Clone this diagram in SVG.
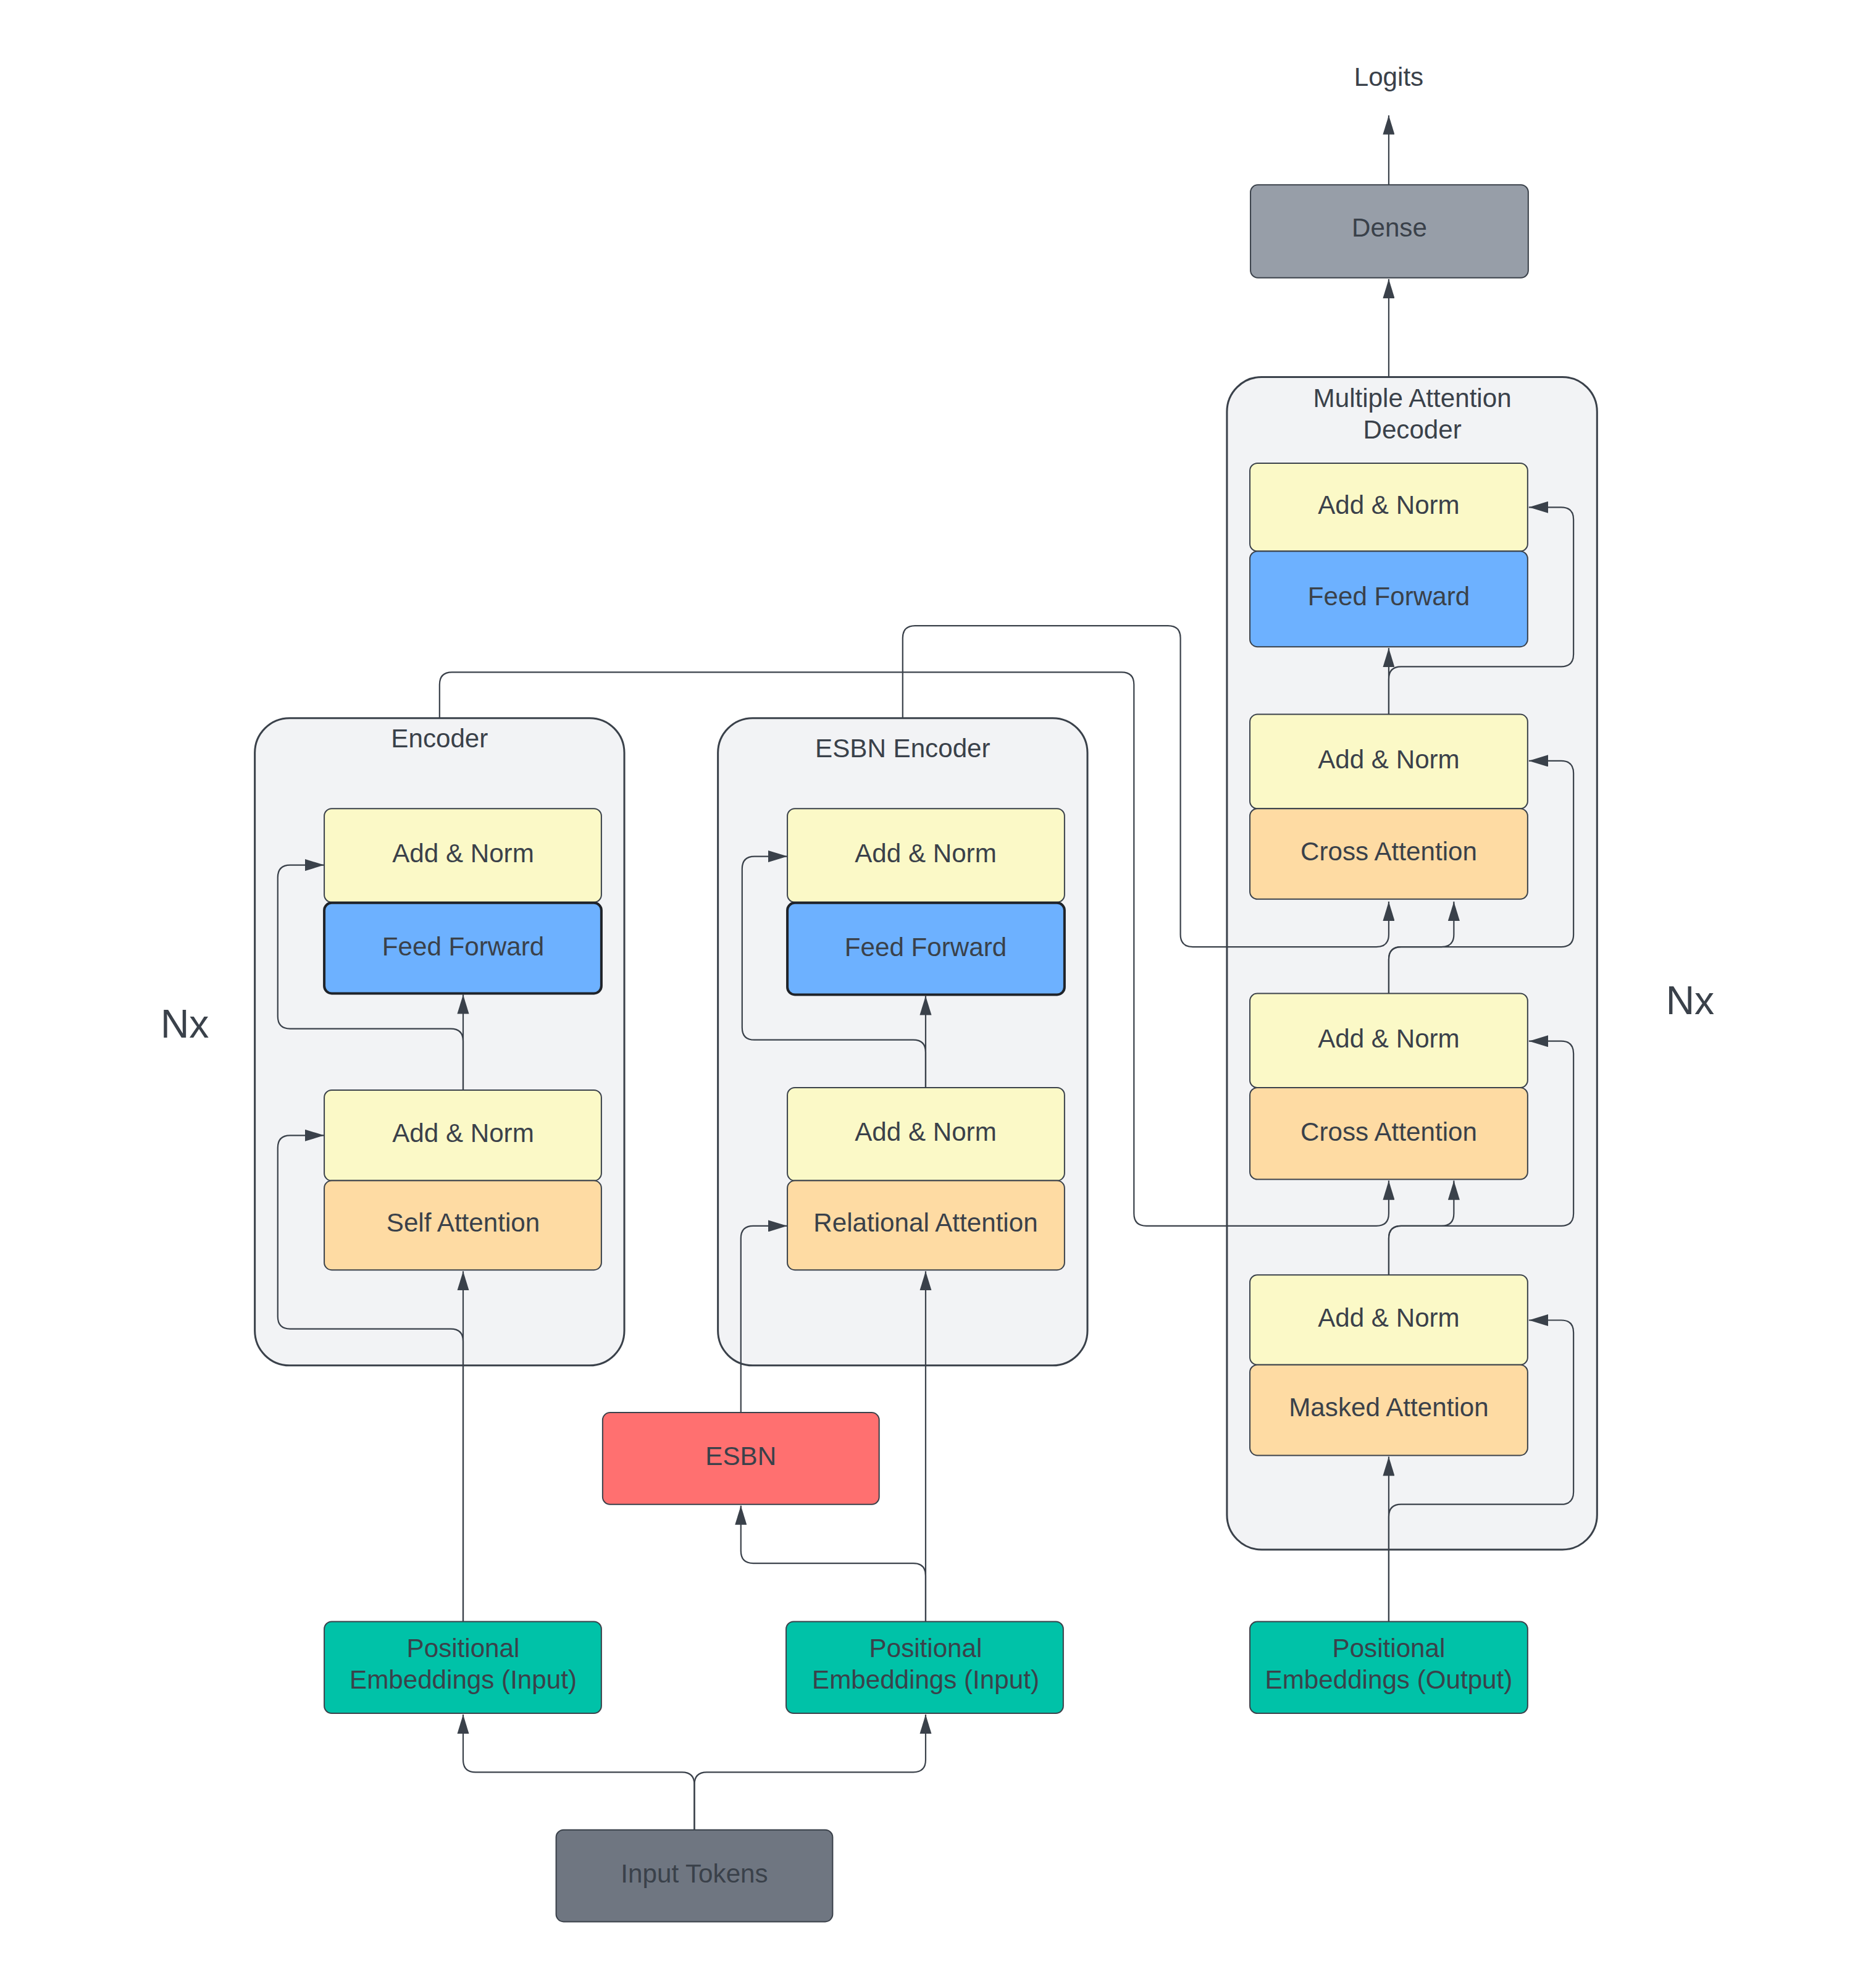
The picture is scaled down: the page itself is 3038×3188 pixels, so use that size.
<svg xmlns="http://www.w3.org/2000/svg" width="3038" height="3188" viewBox="0 0 3038 3188">
<style>
text{font-family:"Liberation Sans",Arial,sans-serif;fill:#3a414a;text-anchor:middle;dominant-baseline:central}
.lbl{font-size:42px}
.big{font-size:64px}
.box{stroke:#3a414a;stroke-width:2}
.cont{fill:#f2f3f5;stroke:#3a414a;stroke-width:3}
.an{fill:#fbf9c7}
.ff{fill:#6db1ff;stroke:#1f2329;stroke-width:4}
.att{fill:#fedba3}
.pe{fill:#00c2a8}
.c{fill:none;stroke:#3a414a;stroke-width:2.2}
.a{marker-end:url(#arr)}
</style>
<defs>
<marker id="arr" viewBox="0 0 31 19" refX="31" refY="9.5" markerWidth="31" markerHeight="19" markerUnits="userSpaceOnUse" orient="auto">
<path d="M0,0 L31,9.5 L0,19 z" fill="#3a414a"/>
</marker>
</defs>
<rect width="3038" height="3188" fill="#ffffff"/>
<g id="diagram" transform="scale(1.004)">

<g id="decoder">
<rect class="cont" x="1979" y="608" width="597" height="1891" rx="56"/>
<text class="lbl" x="2278" y="642">Multiple Attention</text>
<text class="lbl" x="2278" y="693">Decoder</text>
</g>
<g id="encoder">
<rect class="cont" x="411" y="1158" width="596" height="1044" rx="56"/>
<text class="lbl" x="709" y="1191">Encoder</text>
</g>
<g id="esbn-encoder">
<rect class="cont" x="1158" y="1158" width="596" height="1044" rx="56"/>
<text class="lbl" x="1456" y="1207">ESBN Encoder</text>
</g>

<g id="connectors">
<path class="c a" d="M2240,298 V186"/>
<path class="c a" d="M2240,608 V450"/>
<path class="c a" d="M2240,1152 V1045"/>
<path class="c a" d="M2240,1152 V1095 Q2240,1075 2260,1075 H2518 Q2538,1075 2538,1055 V838 Q2538,818 2518,818 H2466"/>
<path class="c a" d="M1456,1158 V1029 Q1456,1009 1476,1009 H1884 Q1904,1009 1904,1029 V1507 Q1904,1527 1924,1527 H2220 Q2240,1527 2240,1507 V1454"/>
<path class="c a" d="M2240,1602 V1547 Q2240,1527 2260,1527 H2325 Q2345,1527 2345,1507 V1454"/>
<path class="c a" d="M2240,1602 V1547 Q2240,1527 2260,1527 H2518 Q2538,1527 2538,1507 V1247 Q2538,1227 2518,1227 H2466"/>
<path class="c a" d="M709,1158 V1104 Q709,1084 729,1084 H1809 Q1829,1084 1829,1104 V1957 Q1829,1977 1849,1977 H2220 Q2240,1977 2240,1957 V1904"/>
<path class="c a" d="M2240,2056 V1997 Q2240,1977 2260,1977 H2325 Q2345,1977 2345,1957 V1904"/>
<path class="c a" d="M2240,2056 V1997 Q2240,1977 2260,1977 H2518 Q2538,1977 2538,1957 V1699 Q2538,1679 2518,1679 H2466"/>
<path class="c a" d="M2240,2615 V2349"/>
<path class="c a" d="M2240,2615 V2446 Q2240,2426 2260,2426 H2518 Q2538,2426 2538,2406 V2149 Q2538,2129 2518,2129 H2466"/>
<path class="c a" d="M747,2615 V2050"/>
<path class="c a" d="M747,2615 V2163 Q747,2143 727,2143 H468 Q448,2143 448,2123 V1851 Q448,1831 468,1831 H523"/>
<path class="c a" d="M747,1758 V1604"/>
<path class="c a" d="M747,1758 V1679 Q747,1659 727,1659 H468 Q448,1659 448,1639 V1415 Q448,1395 468,1395 H523"/>
<path class="c a" d="M1493,1754 V1606"/>
<path class="c a" d="M1493,1754 V1697 Q1493,1677 1473,1677 H1217 Q1197,1677 1197,1657 V1401 Q1197,1381 1217,1381 H1270"/>
<path class="c a" d="M1493,2615 V2050"/>
<path class="c a" d="M1195,2278 V1997 Q1195,1977 1215,1977 H1270"/>
<path class="c a" d="M1493,2615 V2541 Q1493,2521 1473,2521 H1215 Q1195,2521 1195,2501 V2428"/>
<path class="c a" d="M1120,2951 V2878 Q1120,2858 1100,2858 H767 Q747,2858 747,2838 V2765"/>
<path class="c a" d="M1120,2951 V2878 Q1120,2858 1140,2858 H1473 Q1493,2858 1493,2838 V2765"/>
</g>

<g id="logits"><text class="lbl" x="2240" y="124">Logits</text></g>
<g id="dense">
<rect class="box" x="2017" y="298" width="448" height="150" rx="12" fill="#979ea8"/>
<text class="lbl" x="2241" y="367">Dense</text>
</g>

<g id="dec-addnorm-top">
<rect class="box an" x="2016" y="747" width="448" height="142" rx="12"/>
<text class="lbl" x="2240" y="814">Add &amp; Norm</text>
</g>
<g id="dec-feedforward">
<rect class="box" x="2016" y="889" width="448" height="154" rx="12" fill="#6db1ff"/>
<text class="lbl" x="2240" y="962">Feed Forward</text>
</g>
<g id="dec-addnorm-2">
<rect class="box an" x="2016" y="1152" width="448" height="152" rx="12"/>
<text class="lbl" x="2240" y="1225">Add &amp; Norm</text>
</g>
<g id="dec-cross-1">
<rect class="box att" x="2016" y="1304" width="448" height="146" rx="12"/>
<text class="lbl" x="2240" y="1373">Cross Attention</text>
</g>
<g id="dec-addnorm-3">
<rect class="box an" x="2016" y="1602" width="448" height="152" rx="12"/>
<text class="lbl" x="2240" y="1675">Add &amp; Norm</text>
</g>
<g id="dec-cross-2">
<rect class="box att" x="2016" y="1754" width="448" height="148" rx="12"/>
<text class="lbl" x="2240" y="1825">Cross Attention</text>
</g>
<g id="dec-addnorm-4">
<rect class="box an" x="2016" y="2056" width="448" height="145" rx="12"/>
<text class="lbl" x="2240" y="2125">Add &amp; Norm</text>
</g>
<g id="dec-masked">
<rect class="box att" x="2016" y="2201" width="448" height="146" rx="12"/>
<text class="lbl" x="2240" y="2269">Masked Attention</text>
</g>
<g id="pe-output">
<rect class="box pe" x="2016" y="2615" width="448" height="148" rx="12"/>
<text class="lbl" x="2240" y="2658">Positional</text>
<text class="lbl" x="2240" y="2709">Embeddings (Output)</text>
</g>

<g id="enc-addnorm-top">
<rect class="box an" x="523" y="1304" width="447" height="151" rx="12"/>
<text class="lbl" x="747" y="1376">Add &amp; Norm</text>
</g>
<g id="enc-feedforward">
<rect class="ff" x="523" y="1456" width="447" height="146" rx="12"/>
<text class="lbl" x="747" y="1526">Feed Forward</text>
</g>
<g id="enc-addnorm-2">
<rect class="box an" x="523" y="1758" width="447" height="146" rx="12"/>
<text class="lbl" x="747" y="1827">Add &amp; Norm</text>
</g>
<g id="enc-self-attention">
<rect class="box att" x="523" y="1904" width="447" height="144" rx="12"/>
<text class="lbl" x="747" y="1972">Self Attention</text>
</g>

<g id="esbn-addnorm-top">
<rect class="box an" x="1270" y="1304" width="447" height="151" rx="12"/>
<text class="lbl" x="1493" y="1376">Add &amp; Norm</text>
</g>
<g id="esbn-feedforward">
<rect class="ff" x="1270" y="1456" width="447" height="148" rx="12"/>
<text class="lbl" x="1493" y="1527">Feed Forward</text>
</g>
<g id="esbn-addnorm-2">
<rect class="box an" x="1270" y="1754" width="447" height="150" rx="12"/>
<text class="lbl" x="1493" y="1825">Add &amp; Norm</text>
</g>
<g id="esbn-relational">
<rect class="box att" x="1270" y="1904" width="447" height="144" rx="12"/>
<text class="lbl" x="1493" y="1972">Relational Attention</text>
</g>

<g id="esbn">
<rect class="box" x="972" y="2278" width="446" height="148" rx="12" fill="#ff7070"/>
<text class="lbl" x="1195" y="2348">ESBN</text>
</g>
<g id="pe-input-1">
<rect class="box pe" x="523" y="2615" width="447" height="148" rx="12"/>
<text class="lbl" x="747" y="2658">Positional</text>
<text class="lbl" x="747" y="2709">Embeddings (Input)</text>
</g>
<g id="pe-input-2">
<rect class="box pe" x="1268" y="2615" width="447" height="148" rx="12"/>
<text class="lbl" x="1493" y="2658">Positional</text>
<text class="lbl" x="1493" y="2709">Embeddings (Input)</text>
</g>
<g id="input-tokens">
<rect class="box" x="897" y="2951" width="446" height="148" rx="12" fill="#6f7681"/>
<text class="lbl" x="1120" y="3021">Input Tokens</text>
</g>

<g id="nx-left"><text class="big" x="298" y="1651">Nx</text></g>
<g id="nx-right"><text class="big" x="2726" y="1614">Nx</text></g>
</g>
</svg>
